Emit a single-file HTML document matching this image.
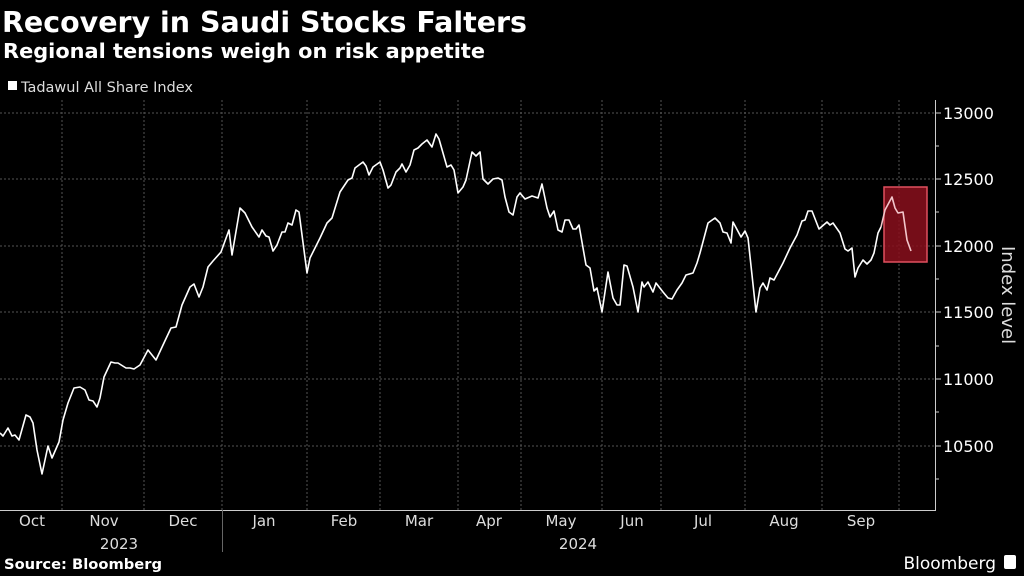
<!DOCTYPE html>
<html><head><meta charset="utf-8"><style>
html,body{margin:0;padding:0;background:#000;width:1024px;height:576px;overflow:hidden}
svg{display:block}
text{font-family:"DejaVu Sans","Liberation Sans",sans-serif;fill:#fff}
</style></head><body>
<svg width="1024" height="576" viewBox="0 0 1024 576">
<text x="2" y="32" font-size="28.5" font-weight="bold" textLength="525" lengthAdjust="spacingAndGlyphs">Recovery in Saudi Stocks Falters</text>
<text x="3" y="58" font-size="20" font-weight="bold" textLength="482" lengthAdjust="spacingAndGlyphs">Regional tensions weigh on risk appetite</text>
<rect x="8" y="81" width="9" height="9" fill="#fff"/>
<text x="21" y="92" font-size="14" style="fill:#ddd" textLength="172" lengthAdjust="spacingAndGlyphs">Tadawul All Share Index</text>
<g stroke="#555" stroke-width="1" stroke-dasharray="2,2">
<line x1="0" y1="113" x2="935" y2="113"/><line x1="0" y1="179" x2="935" y2="179"/>
<line x1="0" y1="246" x2="935" y2="246"/><line x1="0" y1="312" x2="935" y2="312"/>
<line x1="0" y1="379" x2="935" y2="379"/><line x1="0" y1="446" x2="935" y2="446"/>
<line x1="62" y1="100" x2="62" y2="510"/><line x1="144" y1="100" x2="144" y2="510"/>
<line x1="222" y1="100" x2="222" y2="510"/><line x1="307" y1="100" x2="307" y2="510"/>
<line x1="380" y1="100" x2="380" y2="510"/><line x1="458" y1="100" x2="458" y2="510"/>
<line x1="521" y1="100" x2="521" y2="510"/><line x1="602" y1="100" x2="602" y2="510"/>
<line x1="661" y1="100" x2="661" y2="510"/><line x1="745" y1="100" x2="745" y2="510"/>
<line x1="822" y1="100" x2="822" y2="510"/><line x1="899" y1="100" x2="899" y2="510"/>
</g>
<g stroke="#ccc" stroke-width="1">
<line x1="935.5" y1="100" x2="935.5" y2="510"/>
<line x1="0" y1="510.5" x2="936" y2="510.5"/>
<line x1="935" y1="113" x2="941" y2="113"/><line x1="935" y1="146" x2="939" y2="146"/>
<line x1="935" y1="179" x2="941" y2="179"/><line x1="935" y1="212" x2="939" y2="212"/>
<line x1="935" y1="246" x2="941" y2="246"/><line x1="935" y1="279" x2="939" y2="279"/>
<line x1="935" y1="312" x2="941" y2="312"/><line x1="935" y1="346" x2="939" y2="346"/>
<line x1="935" y1="379" x2="941" y2="379"/><line x1="935" y1="412" x2="939" y2="412"/>
<line x1="935" y1="446" x2="941" y2="446"/><line x1="935" y1="479" x2="939" y2="479"/>
<line x1="222.5" y1="510" x2="222.5" y2="552" stroke="#666"/>
</g>
<g font-size="16">
<text x="943" y="119">13000</text><text x="943" y="185">12500</text>
<text x="943" y="252">12000</text><text x="943" y="318">11500</text>
<text x="943" y="385">11000</text><text x="943" y="452">10500</text>
</g>
<text transform="translate(1002,246) rotate(90)" font-size="18" style="fill:#ddd">Index level</text>
<rect x="884" y="187" width="43" height="75" fill="#8a0f1c" fill-opacity="0.85" stroke="#e0505f" stroke-width="1.5"/>
<polyline fill="none" stroke="#fff" stroke-width="1.6" stroke-linejoin="round" points="0,433 3,436 8,428 12,436 15,435 19,440 26,415 30,417 33,423 37,450 42,474 48,446 52,458 59,442 63,420 68,403 74,388 80,387 85,390 89,400 93,401 97,407 100,398 104,377 111,362 115,363 118,363 126,368 130,368 134,369 140,365 148,350 156,360 163,345 171,328 176,327 182,305 190,287 194,284 199,297 203,287 208,267 213,261 221,252 229,230 232,255 240,208 245,213 252,227 259,237 262,230 266,236 269,237 273,251 277,245 282,232 285,232 288,223 292,225 296,210 299,212 307,273 310,258 320,238 327,223 332,218 340,192 348,180 352,178 355,168 363,162 366,166 369,175 373,167 380,162 383,170 388,188 391,185 396,172 400,168 402,164 406,172 410,165 414,150 418,148 422,144 427,140 432,147 436,134 439,139 447,167 451,165 454,170 458,193 463,187 466,180 472,152 476,156 480,152 483,179 488,184 493,179 498,178 502,180 505,197 509,212 513,215 517,197 520,193 525,199 532,196 538,198 542,184 547,208 550,217 554,211 558,230 562,232 565,220 569,220 573,229 576,229 579,225 586,265 590,268 594,291 597,288 602,312 608,272 613,298 617,305 620,305 624,265 627,266 633,287 638,312 642,282 644,287 648,282 653,292 656,283 663,292 668,298 672,299 677,290 682,283 686,275 693,273 697,263 700,253 708,223 715,218 720,223 723,232 727,233 731,243 733,222 741,237 745,231 748,238 756,312 760,288 763,283 767,290 770,278 774,280 783,263 790,248 797,235 802,221 805,220 808,211 812,211 819,229 827,222 830,225 833,223 840,233 845,249 848,251 852,248 855,277 858,268 863,260 867,264 871,260 874,253 878,233 881,227"/>
<polyline fill="none" stroke="#f2c6cb" stroke-width="1.6" stroke-linejoin="round" points="881,227 885,210 892,197 895,208 898,213 903,212 907,240 911,251"/>
<g font-size="15" text-anchor="middle">
<text x="32" y="526" style="fill:#ddd">Oct</text><text x="104" y="526" style="fill:#ddd">Nov</text>
<text x="183" y="526" style="fill:#ddd">Dec</text><text x="264" y="526" style="fill:#ddd">Jan</text>
<text x="344" y="526" style="fill:#ddd">Feb</text><text x="419" y="526" style="fill:#ddd">Mar</text>
<text x="489" y="526" style="fill:#ddd">Apr</text><text x="561" y="526" style="fill:#ddd">May</text>
<text x="632" y="526" style="fill:#ddd">Jun</text><text x="703" y="526" style="fill:#ddd">Jul</text>
<text x="784" y="526" style="fill:#ddd">Aug</text><text x="861" y="526" style="fill:#ddd">Sep</text>
<text x="119" y="549" style="fill:#ddd">2023</text><text x="578" y="549" style="fill:#ddd">2024</text>
</g>
<text x="4" y="569" font-size="14" font-weight="bold" textLength="158" lengthAdjust="spacingAndGlyphs">Source: Bloomberg</text>
<text x="996" y="569" font-size="17" text-anchor="end">Bloomberg</text>
<rect x="1004" y="555" width="12" height="14" rx="2" fill="#fff"/>
</svg>
</body></html>
